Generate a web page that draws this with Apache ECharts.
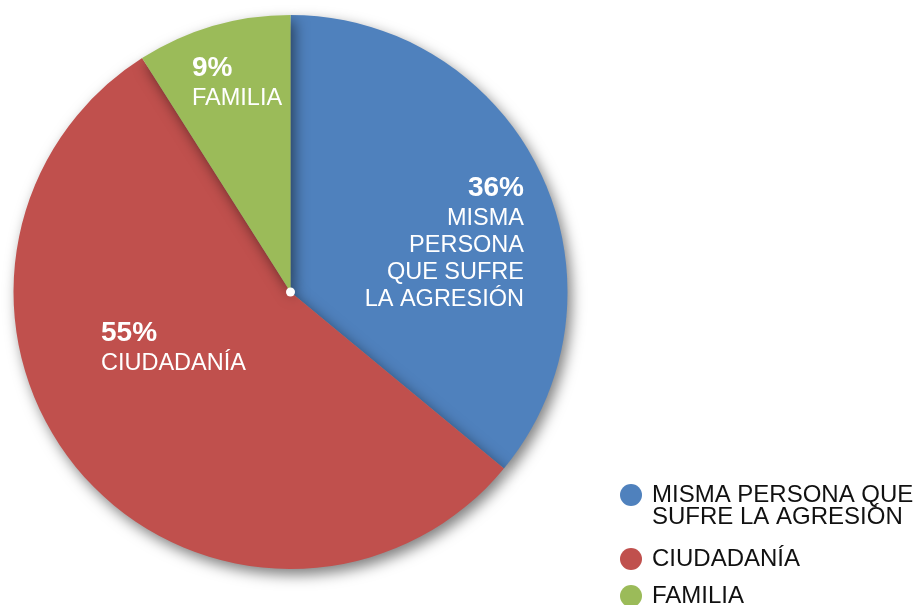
<!DOCTYPE html>
<html>
<head>
<meta charset="utf-8">
<script src="https://cdn.jsdelivr.net/npm/echarts@6/dist/echarts.min.js"></script>
<style>
  html, body { margin: 0; padding: 0; background: #fff; }
  #chart { width: 916px; height: 605px; }
</style>
</head>
<body>
<div id="chart"></div>
<script>
// datos
const categories = ["MISMA PERSONA QUE SUFRE LA AGRESIÓN", "CIUDADANÍA", "FAMILIA"];
const values = [36, 55, 9];
const percentLabels = ["36%", "55%", "9%"];
const sliceLabels = ["MISMA\nPERSONA\nQUE SUFRE\nLA AGRESIÓN", "CIUDADANÍA", "FAMILIA"];
const legendLabels = ["MISMA PERSONA QUE\nSUFRE LA AGRESIÓN", "CIUDADANÍA", "FAMILIA"];
const colors = ["#4f81bd", "#c0504d", "#9bbb59"];

// posición de las etiquetas dentro del pastel
const labelPos = [
  [524, 171, "right"],
  [101, 316, "left"],
  [192, 51, "left"],
];
// top de cada leyenda
const legendTops = [462, 547, 584];

const FONT = "'Liberation Sans', Arial, sans-serif";
const chart = echarts.init(document.getElementById("chart"));

// una leyenda por elemento para poder alinear el icono con la primera línea
const legends = categories.map((c, i) => ({
  orient: "vertical",
  left: 620,
  top: legendTops[i],
  padding: 0,
  itemWidth: 22,
  itemHeight: 22,
  icon: "circle",
  itemStyle: { shadowBlur: 0, shadowOffsetX: 0, shadowOffsetY: 0, shadowColor: "transparent" },
  textStyle: {
    fontFamily: FONT,
    fontSize: 24,
    lineHeight: 22,
    color: "#111",
    padding: [0, 0, 0, 5],
    rich: {
      sp: { fontSize: 12, lineHeight: 22 },
      t: { fontFamily: FONT, fontSize: 24, lineHeight: 22, color: "#111" },
    },
  },
  formatter: (name) => {
    const lines = legendLabels[categories.indexOf(name)].split("\n");
    if (lines.length === 1) return lines[0];
    return "{sp| }\n" + lines.map((l) => "{t|" + l + "}").join("\n");
  },
  data: [c],
}));

chart.setOption({
  animation: false,
  legend: legends,
  series: [
    {
      type: "pie",
      center: [290.5, 292],
      radius: [0, 277],
      startAngle: 90,
      clockwise: true,
      avoidLabelOverlap: false,
      itemStyle: {
        shadowBlur: 14,
        shadowOffsetX: 4,
        shadowOffsetY: 6,
        shadowColor: "rgba(0,0,0,0.5)",
      },
      emphasis: { disabled: true },
      label: {
        show: true,
        position: "inside",
        fontFamily: FONT,
        formatter: (p) => "{pct|" + percentLabels[p.dataIndex] + "}\n{name|" + sliceLabels[p.dataIndex].split("\n").join("}\n{name|") + "}",
        rich: {
          pct: { fontFamily: FONT, fontSize: 28, fontWeight: "bold", color: "#fff", lineHeight: 34 },
          name: { fontFamily: FONT, fontSize: 23.5, color: "#fff", lineHeight: 27 },
        },
      },
      labelLine: { show: false },
      labelLayout: (params) => {
        const p = labelPos[params.dataIndex];
        return { x: p[0], y: p[1], align: p[2], verticalAlign: "top" };
      },
      data: categories.map((c, i) => ({
        name: c,
        value: values[i],
        itemStyle: { color: colors[i] },
      })),
    },
    {
      // punto blanco del centro
      type: "pie",
      center: [290.5, 292],
      radius: [0, 4.5],
      silent: true,
      label: { show: false },
      labelLine: { show: false },
      itemStyle: { color: "#fff" },
      data: [{ name: "centro", value: 1 }],
    },
  ],
});
</script>
</body>
</html>
